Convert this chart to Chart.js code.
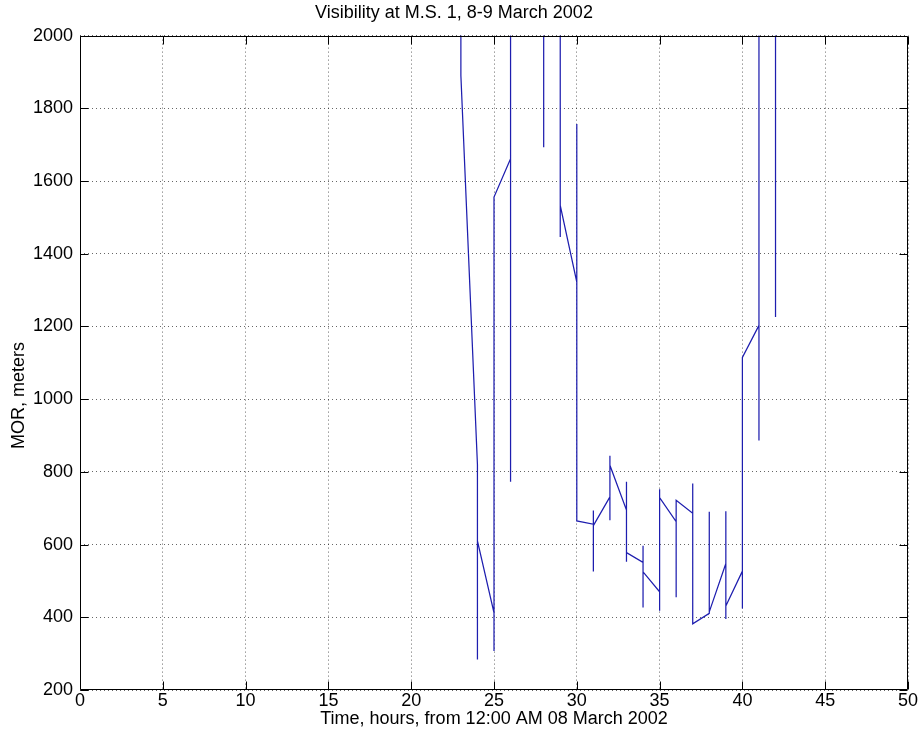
<!DOCTYPE html>
<html>
<head>
<meta charset="utf-8">
<script src="https://cdn.jsdelivr.net/npm/chart.js@4"></script>
<style>
  html, body { margin: 0; padding: 0; background: #fff; }
  canvas { display: block; }
</style>
</head>
<body>
<canvas id="c" width="920" height="738"></canvas>
<script>
// ---- Data ----
const titleText = 'Visibility at M.S. 1, 8-9 March 2002';
const xTitle = 'Time, hours, from 12:00 AM 08 March 2002';
const yTitle = 'MOR, meters';

const xTicks = [0, 5, 10, 15, 20, 25, 30, 35, 40, 45, 50];
const yTicks = [200, 400, 600, 800, 1000, 1200, 1400, 1600, 1800, 2000];

// hourly readings (all readings within an hour share one x value)
const hours    = [23,   24,  25,   26,   27,   28,   29,   30,   31,  32,  33,  34,  35,  36,  37,  38,  39,  40,   41,   42];
const firstMOR = [2300, 820, 412,  1661, 2450, 2250, 2200, 1322, 656, 731, 695, 551, 470, 663, 686, 411, 548, 527,  1203, 2300];
const maxMOR   = [2300, 820, 1556, 2350, 2600, 2400, 2300, 1757, 694, 844, 773, 597, 752, 722, 768, 690, 692, 1115, 2300, 2300];
const minMOR   = [1890, 284, 307,  773,  2100, 1693, 1446, 665,  526, 667, 553, 427, 418, 455, 382, 411, 395, 424,  886,  1226];
const lastMOR  = [1890, 610, 1556, 2350, 2200, 2300, 1533, 665,  652, 818, 578, 525, 729, 722, 382, 415, 431, 1115, 2300, 1226];

// build the polyline: first -> max -> min -> last in each hour
const points = [];
hours.forEach((h, i) => {
  points.push({x: h, y: firstMOR[i]});
  points.push({x: h, y: maxMOR[i]});
  points.push({x: h, y: minMOR[i]});
  points.push({x: h, y: lastMOR[i]});
});

const FONT = 'Liberation Sans, Arial, Helvetica, sans-serif';

// box + inward tick marks (MATLAB style) and the y-axis label
const boxPlugin = {
  id: 'matlabBox',
  afterDraw(chart) {
    const {ctx, chartArea: a, scales: {x, y}} = chart;
    const L = Math.round(a.left) + 0.5, R = Math.round(a.right) - 0.5;
    const T = Math.round(a.top) + 0.5, B = Math.round(a.bottom) - 0.5;
    ctx.save();
    ctx.strokeStyle = '#000';
    ctx.lineWidth = 1;
    ctx.beginPath();
    ctx.rect(L, T, R - L, B - T);
    const len = 8;
    x.ticks.forEach(t => {
      const px = Math.round(x.getPixelForValue(t.value)) + 0.5;
      ctx.moveTo(px, B); ctx.lineTo(px, B - len);
      ctx.moveTo(px, T); ctx.lineTo(px, T + len);
    });
    y.ticks.forEach(t => {
      const py = Math.round(y.getPixelForValue(t.value)) + 0.5;
      ctx.moveTo(L, py); ctx.lineTo(L + len, py);
      ctx.moveTo(R, py); ctx.lineTo(R - len, py);
    });
    ctx.stroke();
    // y-axis label, rotated
    ctx.fillStyle = '#000';
    ctx.font = '18px ' + FONT;
    ctx.textAlign = 'center';
    ctx.textBaseline = 'middle';
    ctx.translate(19, y.getPixelForValue(1010));
    ctx.rotate(-Math.PI / 2);
    ctx.fillText(yTitle, 0, 0);
    ctx.restore();
  }
};

new Chart(document.getElementById('c'), {
  type: 'scatter',
  data: {
    datasets: [{
      data: points,
      showLine: true,
      borderColor: 'rgb(30,30,175)',
      borderWidth: 1.25,
      pointRadius: 0,
      pointHoverRadius: 0,
      tension: 0,
      fill: false
    }]
  },
  options: {
    responsive: false,
    animation: false,
    devicePixelRatio: 1,
    layout: { padding: { top: 0, left: 0, right: 12, bottom: 0 } },
    plugins: {
      legend: { display: false },
      tooltip: { enabled: false },
      title: {
        display: true,
        text: titleText,
        color: '#000',
        font: { family: FONT, size: 18, weight: 'normal' },
        padding: { top: 2, bottom: 12 }
      }
    },
    scales: {
      x: {
        type: 'linear',
        min: 0, max: 50,
        afterBuildTicks: s => { s.ticks = xTicks.map(v => ({value: v})); },
        afterFit: s => { s.height = 48; },
        grid: { color: 'rgba(0,0,0,0.6)', lineWidth: 1, drawTicks: false },
        border: { display: false, dash: [1, 3] },
        ticks: { color: '#000', font: { family: FONT, size: 18 }, padding: 0, maxRotation: 0,
                 callback: v => String(v) },
        title: { display: true, text: xTitle, color: '#000',
                 font: { family: FONT, size: 18 }, padding: { top: 0, bottom: 8 } }
      },
      y: {
        type: 'linear',
        min: 200, max: 2000,
        afterBuildTicks: s => { s.ticks = yTicks.map(v => ({value: v})); },
        afterFit: s => { s.width = 80; },
        grid: { color: 'rgba(0,0,0,0.6)', lineWidth: 1, drawTicks: false },
        border: { display: false, dash: [1, 3] },
        ticks: { color: '#000', font: { family: FONT, size: 18 }, padding: 7,
                 callback: v => String(v) },
        title: { display: false }
      }
    }
  },
  plugins: [boxPlugin]
});
</script>
</body>
</html>
